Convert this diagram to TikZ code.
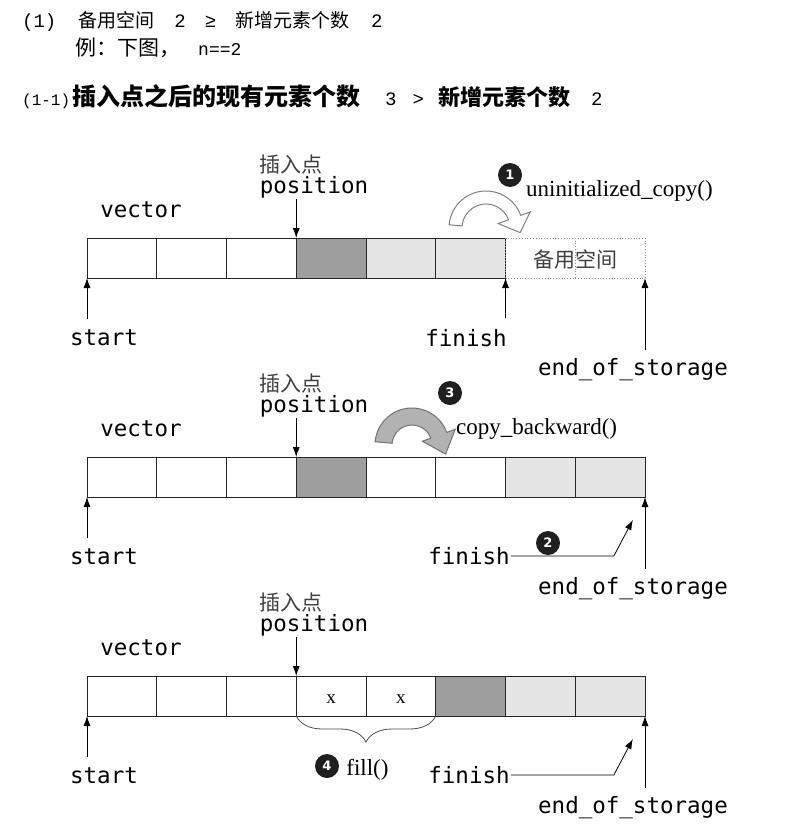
\documentclass[tikz,border=0pt]{standalone}
\usepackage{fontspec}
\setmainfont{Liberation Serif}
\newfontfamily\cjkfont{Noto Sans CJK SC}
\newfontfamily\lblfont{DejaVu Sans Mono}
\newfontfamily\headfont{Liberation Mono}
\newfontfamily\numfont{DejaVu Sans}
\usetikzlibrary{positioning,arrows.meta,decorations.pathreplacing}
\tikzset{
  cell/.style = {draw=black!85, line width=0.8pt, minimum width=69.75pt, minimum height=40pt, inner sep=0pt, outer sep=0pt},
  cellE/.style = {cell, fill=white},
  cellD/.style = {cell, fill=black!38},
  cellL/.style = {cell, fill=black!10},
  cellS/.style = {cell, draw=black!45, dotted},
  lbl/.style = {font=\lblfont\fontsize{22.5}{26}\selectfont, inner sep=1pt},
  ins/.style = {font=\cjkfont\fontsize{21}{24}\selectfont, text=black!75, inner sep=1pt},
  op/.style = {font=\fontsize{23}{26}\selectfont, inner sep=1pt},
  num/.style = {circle, fill=black!88, text=white, font=\numfont\bfseries\fontsize{13}{14}\selectfont, inner sep=0pt, minimum size=24pt},
  ptr/.style = {-{Latex[length=10pt,width=7pt]}, line width=0.8pt},
  hollowbend/.style = {draw=black!50, fill=white, line width=1pt},
  solidbend/.style = {draw=black!55, fill=black!30, line width=1pt},
  fillbrace/.style = {decorate, decoration={brace, mirror, amplitude=26pt}, draw=black!70, line width=0.8pt},
}

\begin{document}
\begin{tikzpicture}[x=1pt, y=-1pt]
\path[fill=white, use as bounding box] (0,0) rectangle (803,838);

\node[anchor=west, inner sep=0pt, font=\fontsize{19}{22}\selectfont] (head1) at (22,21)
  {\headfont(1)\hspace{22pt}\cjkfont 备用空间\hspace{20pt}\headfont 2\hspace{19pt}≥\hspace{19pt}\cjkfont 新增元素个数\hspace{22pt}\headfont 2};
\node[anchor=west, inner sep=0pt] (head2) at (75,48)
  {\fontsize{21}{24}\selectfont\cjkfont 例：下图，\hspace{18pt}\fontsize{18}{22}\selectfont\headfont n==2};
\node[anchor=west, inner sep=0pt] (head3) at (22,97)
  {\fontsize{16}{20}\selectfont\headfont(1-1)\hspace{2pt}{\fontsize{24}{28}\selectfont\cjkfont\bfseries 插入点之后的现有元素个数}\fontsize{19}{22}\selectfont\hspace{25pt}3\hspace{16pt}>\hspace{14pt}{\fontsize{22}{26}\selectfont\cjkfont\bfseries 新增元素个数}\hspace{21pt}2};

\foreach \k/\cells in {1/{cellE,cellE,cellE,cellD,cellL,cellL,cellS,cellS},
                      2/{cellE,cellE,cellE,cellD,cellE,cellE,cellL,cellL},
                      3/{cellE,cellE,cellE,cellE,cellE,cellD,cellL,cellL}}{
  \foreach \f [count=\i] in \cells
    \node[\f] (c\k\i) at ({87+69.75*(\i-0.5)}, {258+219*(\k-1)}) {};
}

\foreach \k in {1,2,3}{
  \pgfmathsetmacro\dy{219*(\k-1)}
  \node[lbl] (vec\k) at (141,{210+\dy}) {vector};
  \node[lbl] (pos\k) at (314,{187+\dy}) {position};
  \node[ins, above=0pt of pos\k.north west, anchor=south west] (ins\k) {插入点};
  \node[lbl] (st\k) at (104,{338+\dy}) {start};
  \node[lbl] (eos\k) at (633,{370+\dy}) {end\_of\_storage};
  \draw[ptr] (pos\k.south -| c\k4.north west) -- (c\k4.north west);
  \draw[ptr, shorten <=10pt] (st\k.north -| c\k1.south west) -- (c\k1.south west);
  \draw[ptr, shorten <=8pt] (eos\k.north -| c\k8.south east) -- (c\k8.south east);
}

% step 1
\node[ins, yshift=-2pt] (spare) at (c17.east) {备用空间};
\node[lbl] (fin1) at (466,338) {finish};
\draw[ptr, shorten <=10pt] (fin1.north -| c16.south east) -- (c16.south east);
\begin{scope}[shift={(486,228)}, yscale=-1]
  \draw[hollowbend] (175:37) arc[start angle=175, end angle=20, radius=37] -- (20:47) -- (34.1,-4.6) -- (20:13) -- (20:24) arc[start angle=20, end angle=175, radius=24] -- cycle;
\end{scope}
\node[num] (n1) at (510,175) {1};
\node[op, anchor=west] (cp1) at (525,191) {uninitialized\_copy()};

% steps 2, 3
\begin{scope}[shift={(412,445)}, yscale=-1]
  \draw[solidbend] (175:37) arc[start angle=175, end angle=20, radius=37] -- (20:46) -- (33.6,-9.05) -- (20:11) -- (20:20) arc[start angle=20, end angle=175, radius=20] -- cycle;
\end{scope}
\node[num] (n3) at (450,393) {3};
\node[op, anchor=west] (cp2) at (455,429) {copy\_backward()};
\foreach \k in {2,3}{
  \pgfmathsetmacro\dy{219*(\k-2)}
  \node[lbl] (fin\k) at (469,{556+\dy}) {finish};
  \draw[ptr, shorten >=26pt] (fin\k.east) -- ++(103,0) -- (c\k8.south east);
}
\node[num] (n2) at (548,543) {2};

% step 4
\node[op, font=\fontsize{19}{21}\selectfont, yshift=-3pt] (x4) at (c34) {x};
\node[op, font=\fontsize{19}{21}\selectfont, yshift=-3pt] (x5) at (c35) {x};
\draw[fillbrace] (c34.south west) -- (c35.south east);
\node[num] (n4) at (327,766) {4};
\node[op, right=6pt of n4, yshift=-4pt] (fl) {fill()};
\end{tikzpicture}
\end{document}
